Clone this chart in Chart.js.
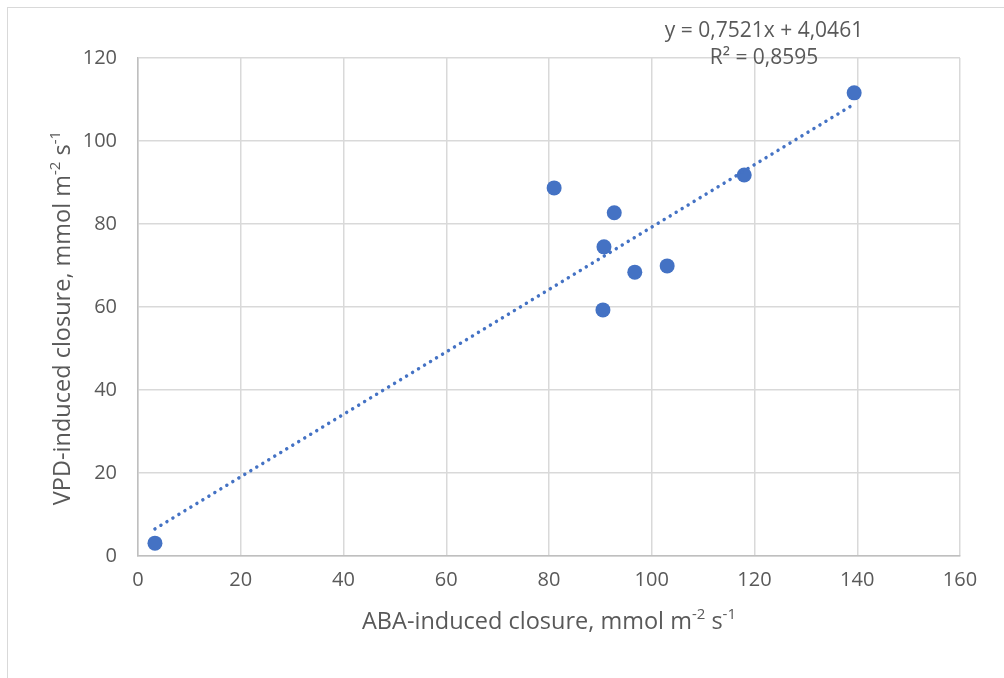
<!DOCTYPE html>
<html>
<head>
<meta charset="utf-8">
<script src="https://cdn.jsdelivr.net/npm/chart.js@4/dist/chart.umd.min.js"></script>
<style>
  body { margin: 0; background: #fff; }
  #wrap { position: relative; width: 1004px; height: 678px; overflow: hidden; }
  #frame { position: absolute; left: 7px; top: 7px; width: 1000px; height: 700px; border: 1px solid #d9d9d9; box-sizing: border-box; }
  canvas { position: absolute; left: 0; top: 0; }
</style>
</head>
<body>
<div id="wrap">
  <div id="frame"></div>
  <canvas id="myChart" width="1004" height="678"></canvas>
</div>
<script>
// ABA vs VPD induced stomatal closure
var abaClosure = [3.3, 81.0, 92.7, 90.7, 96.7, 103.0, 90.5, 118.0, 139.4];
var vpdClosure = [3.1, 88.7, 82.7, 74.5, 68.4, 69.9, 59.3, 91.8, 111.6];

// linear trendline, as printed on the chart
var trendSlope = 0.7521;
var trendIntercept = 4.0461;
var trendR2 = 0.8595;

var xMax = 160, yMax = 120, tickStep = 20;

var fontFamily = "'Open Sans', sans-serif";
var textColor = '#595959';

function fmt(v) {
    return v.toFixed(4).replace('.', ',');
}

var points = abaClosure.map((x, i) => ({ x: x, y: vpdClosure[i] }));
var xLo = Math.min(...abaClosure);
var xHi = Math.max(...abaClosure);
var trend = [
    { x: xLo, y: trendSlope * xLo + trendIntercept },
    { x: xHi, y: trendSlope * xHi + trendIntercept }
];

// text with superscript pieces, optionally rotated
function drawRich(ctx, parts, cx, cy, size, rotate) {
    ctx.save();
    ctx.translate(cx, cy);
    if (rotate) ctx.rotate(-Math.PI / 2);
    ctx.fillStyle = textColor;
    ctx.textBaseline = 'middle';
    ctx.textAlign = 'left';
    var supSize = Math.round(size * 0.62);
    var total = 0;
    parts.forEach(p => {
        ctx.font = (p.sup ? supSize : size) + 'px ' + fontFamily;
        p.w = ctx.measureText(p.t).width;
        total += p.w;
    });
    var x = -total / 2;
    parts.forEach(p => {
        ctx.font = (p.sup ? supSize : size) + 'px ' + fontFamily;
        ctx.fillText(p.t, x, p.sup ? -size * 0.33 : 0);
        x += p.w;
    });
    ctx.restore();
}

var labelsPlugin = {
    id: 'labelsPlugin',
    afterDraw(chart) {
        var ctx = chart.ctx;
        var a = chart.chartArea;
        drawRich(ctx, [
            { t: 'ABA-induced closure, mmol m' }, { t: '-2', sup: true },
            { t: ' s' }, { t: '-1', sup: true }
        ], (a.left + a.right) / 2, 622, 23.5, false);
        drawRich(ctx, [
            { t: 'VPD-induced closure, mmol m' }, { t: '-2', sup: true },
            { t: ' s' }, { t: '-1', sup: true }
        ], 63, 318, 23.5, true);

        ctx.save();
        ctx.fillStyle = textColor;
        ctx.textAlign = 'center';
        ctx.textBaseline = 'middle';
        ctx.font = '21px ' + fontFamily;
        ctx.fillText('y = ' + fmt(trendSlope) + 'x + ' + fmt(trendIntercept), 764, 31);
        ctx.fillText('R² = ' + fmt(trendR2), 764, 58);
        ctx.restore();
    }
};

var ctx = document.getElementById('myChart').getContext('2d');
var myChart = new Chart(ctx, {
    type: 'scatter',
    data: {
        datasets: [{
            type: 'line',
            data: trend,
            borderColor: '#4472C4',
            borderWidth: 3.5,
            borderCapStyle: 'round',
            borderDash: [0.01, 7],
            pointRadius: 0,
            fill: false,
            order: 0
        }, {
            data: points,
            backgroundColor: '#4472C4',
            borderColor: '#4472C4',
            pointRadius: 7.5,
            pointBorderWidth: 0,
            order: 1
        }]
    },
    options: {
        responsive: false,
        animation: false,
        layout: {
            padding: { left: 58, right: 44, top: 58, bottom: 82 }
        },
        scales: {
            x: {
                type: 'linear',
                min: 0,
                max: xMax,
                afterFit: s => { s.height = 40; },
                ticks: {
                    stepSize: tickStep,
                    color: textColor,
                    padding: 12,
                    font: { size: 20, family: fontFamily }
                },
                grid: { color: '#d9d9d9', lineWidth: 1.5, drawTicks: false },
                border: { color: '#bfbfbf', width: 1.5 }
            },
            y: {
                min: 0,
                max: yMax,
                afterFit: s => { s.width = 80; },
                ticks: {
                    stepSize: tickStep,
                    color: textColor,
                    padding: 21,
                    font: { size: 20, family: fontFamily }
                },
                grid: { color: '#d9d9d9', lineWidth: 1.5, drawTicks: false },
                border: { color: '#bfbfbf', width: 1.5 }
            }
        },
        plugins: {
            legend: { display: false },
            tooltip: { enabled: false }
        }
    },
    plugins: [labelsPlugin]
});
</script>
</body>
</html>
